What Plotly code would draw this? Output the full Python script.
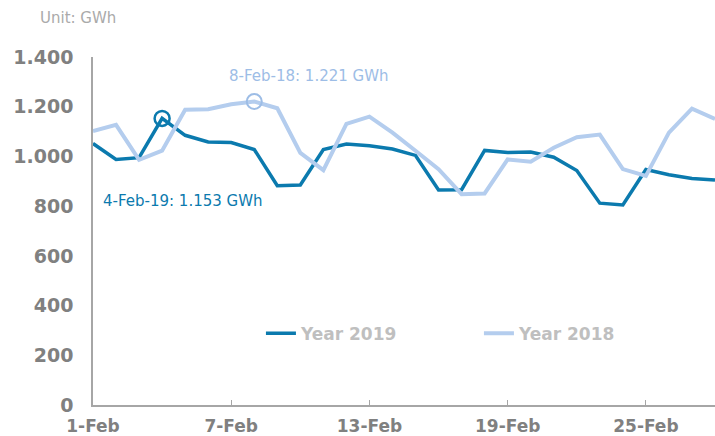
import plotly.graph_objects as go

days = list(range(1, 29))
year_2019 = [1052, 988, 995, 1153, 1085, 1058, 1056, 1028, 882, 885, 1028, 1050,
             1043, 1030, 1004, 865, 866, 1024, 1016, 1018, 997, 943, 812, 805,
             947, 926, 911, 905]
year_2018 = [1102, 1127, 986, 1023, 1188, 1190, 1210, 1221, 1194, 1014, 945, 1131,
             1160, 1096, 1023, 949, 848, 851, 988, 979, 1035, 1077, 1088, 949,
             922, 1096, 1192, 1151]
tick_days = [1, 7, 13, 19, 25]
tick_labels = ["1-Feb", "7-Feb", "13-Feb", "19-Feb", "25-Feb"]
y_ticks = [0, 200, 400, 600, 800, 1000, 1200, 1400]

dark = "#0b7aae"
light = "#b4cdee"
light_txt = "#9dbde6"
font = "DejaVu Sans"

def fmt(v):
    return f"{v:,}".replace(",", ".")

fig = go.Figure()
fig.add_trace(go.Scatter(x=days, y=year_2019, mode="lines", name="Year 2019",
                         line=dict(color=dark, width=3.5)))
fig.add_trace(go.Scatter(x=days, y=year_2018, mode="lines", name="Year 2018",
                         line=dict(color=light, width=4)))

i19 = 3
i18 = 7
fig.add_trace(go.Scatter(x=[days[i19]], y=[year_2019[i19]], mode="markers", showlegend=False,
                         marker=dict(symbol="circle-open", size=15, color=dark, line=dict(width=2.5))))
fig.add_trace(go.Scatter(x=[days[i18]], y=[year_2018[i18]], mode="markers", showlegend=False,
                         marker=dict(symbol="circle-open", size=15, color=light_txt, line=dict(width=2))))

fig.add_annotation(x=days[i19], y=year_2019[i19], xshift=-61, yshift=-83,
                   text=f"{days[i19]}-Feb-19: {fmt(year_2019[i19])} GWh", showarrow=False,
                   xanchor="left", yanchor="middle", font=dict(family=font, size=15, color=dark))
fig.add_annotation(x=days[i18], y=year_2018[i18], xshift=-27, yshift=25,
                   text=f"{days[i18]}-Feb-18: {fmt(year_2018[i18])} GWh", showarrow=False,
                   xanchor="left", yanchor="middle", font=dict(family=font, size=15, color=light_txt))
fig.add_annotation(x=-0.088, xref="paper", y=1.112, yref="paper", text="Unit: GWh",
                   showarrow=False, xanchor="left", yanchor="middle",
                   font=dict(family=font, size=15, color="#aaaaaa"))

fig.update_layout(
    width=715, height=436,
    margin=dict(l=93, r=0, t=57, b=31, autoexpand=False),
    plot_bgcolor="white", paper_bgcolor="white",
    separators=",.",
    showlegend=True,
    legend=dict(orientation="h", x=0.27, y=0.205, xanchor="left", yanchor="middle",
                font=dict(family=font, size=17, color="#bfbfbf", weight="bold"),
                entrywidth=173, entrywidthmode="pixels", bgcolor="rgba(0,0,0,0)"),
    xaxis=dict(range=[1, 28], tickvals=tick_days, ticktext=tick_labels, showgrid=False,
               showline=True, linecolor="#a6a6a6", linewidth=1.5, ticks="inside", ticklen=5,
               tickcolor="#a6a6a6", zeroline=False, automargin=False, ticklabelstandoff=5,
               tickfont=dict(family=font, size=17, color="#808080", weight="bold")),
    yaxis=dict(range=[0, 1400], tickvals=y_ticks, tickformat=",d", showgrid=False,
               showline=True, linecolor="#a6a6a6", linewidth=1.5, zeroline=False,
               ticks="", ticklabelstandoff=14, automargin=False,
               tickfont=dict(family=font, size=19, color="#808080", weight="bold")),
)

fig.write_html("out.html", config={"displayModeBar": False},
               post_script="document.body.style.margin='0';")
